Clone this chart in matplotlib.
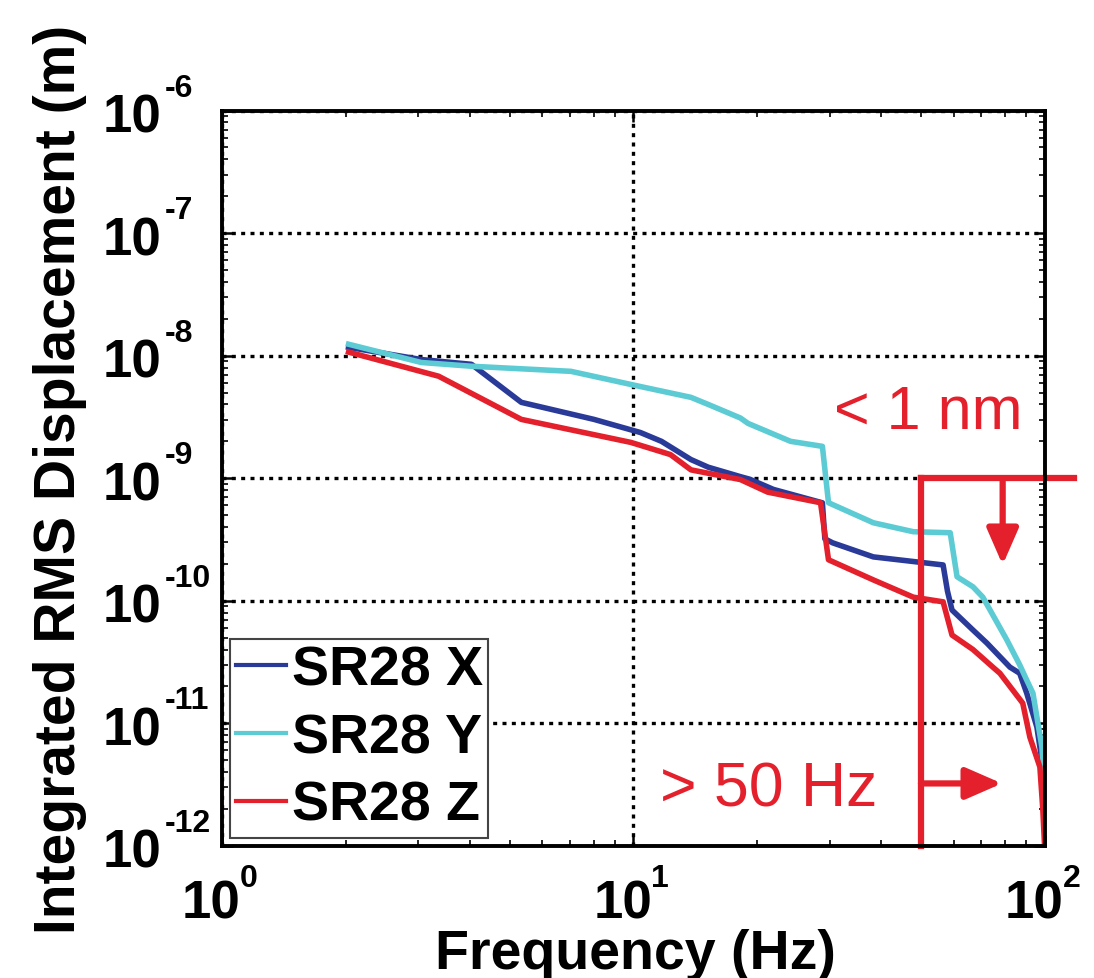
import matplotlib
matplotlib.use('Agg')
import matplotlib.pyplot as plt
from matplotlib.transforms import offset_copy
import numpy as np

plt.rcParams['font.family'] = ['Liberation Sans', 'DejaVu Sans']

# data (frequency in Hz, integrated rms displacement in m)
freq_x = [2.03, 3.05, 4.04, 5.34, 8.02, 10.4, 11.7, 13.8, 15.2, 18.2, 19.2,
          21.9, 28.8, 29.2, 30.5, 38.3, 56.6, 58.0, 59.5, 66.9, 72.3, 82.3,
          86.9, 90.4, 95.7, 98.4, 99.9]
disp_x = [1.17e-8, 9.3e-9, 8.5e-9, 4.16e-9, 3.02e-9, 2.36e-9, 2.0e-9, 1.42e-9,
          1.23e-9, 1.03e-9, 9.8e-10, 8.1e-10, 6.3e-10, 3.2e-10, 2.97e-10,
          2.28e-10, 1.96e-10, 1.2e-10, 8.4e-11, 5.77e-11, 4.52e-11, 2.87e-11,
          2.56e-11, 1.76e-11, 9.3e-12, 5.0e-12, 2.0e-12]

freq_y = [2.03, 3.05, 4.04, 7.05, 10.4, 13.8, 15.2, 18.2, 19.0, 24.1, 28.8,
          29.8, 38.3, 47.9, 58.9, 61.2, 66.9, 70.7, 80.9, 86.9, 90.4, 93.6,
          98.4, 99.9]
disp_y = [1.24e-8, 8.8e-9, 8.2e-9, 7.45e-9, 5.6e-9, 4.57e-9, 4.0e-9, 3.1e-9,
          2.8e-9, 2.0e-9, 1.82e-9, 6.31e-10, 4.33e-10, 3.66e-10, 3.59e-10,
          1.57e-10, 1.3e-10, 1.07e-10, 4.78e-11, 3.0e-11, 2.25e-11, 1.76e-11,
          6.4e-12, 3.0e-12]

freq_z = [2.03, 3.36, 5.34, 9.86, 12.3, 13.8, 18.2, 21.2, 28.5, 29.8, 38.3,
          47.9, 56.6, 59.5, 66.9, 74.8, 77.8, 88.4, 92.0, 97.3, 98.9, 99.9]
disp_z = [1.07e-8, 6.8e-9, 3.02e-9, 1.96e-9, 1.56e-9, 1.17e-9, 9.75e-10,
          7.7e-10, 6.31e-10, 2.16e-10, 1.48e-10, 1.07e-10, 9.8e-11, 5.25e-11,
          4.0e-11, 2.87e-11, 2.56e-11, 1.46e-11, 7.7e-12, 4.4e-12, 2.0e-12,
          1.0e-12]

labels = ['SR28 X', 'SR28 Y', 'SR28 Z']
colors = ['#2a3a98', '#5ccbd3', '#e3202b']

# matlab style tick labels: base "10" plus a small exponent
xticks = [1, 10, 100]
xtick_exps = ['0', '1', '2']
yticks = [1e-12, 1e-11, 1e-10, 1e-9, 1e-8, 1e-7, 1e-6]
ytick_exps = ['-12', '-11', '-10', '-9', '-8', '-7', '-6']

# annotation box: < 1 nm above 50 Hz
f_cut = 50
d_cut = 1e-9

fig = plt.figure(figsize=(10.94, 9.79), dpi=100)
ax = fig.add_axes([0.203, 0.135, 0.752, 0.751])

ax.plot(freq_x, disp_x, color=colors[0], lw=4, label=labels[0])
ax.plot(freq_y, disp_y, color=colors[1], lw=4, label=labels[1])
ax.plot(freq_z, disp_z, color=colors[2], lw=4, label=labels[2])

ax.set_xscale('log')
ax.set_yscale('log')
ax.set_xlim(1, 100)
ax.set_ylim(1e-12, 1e-6)
ax.set_xticks(xticks)
ax.set_yticks(yticks)

ax.grid(True, which='major', color='k', linestyle=(0, (1.2, 1.6)), lw=2.4)
ax.tick_params(which='both', direction='in', top=True, right=True,
               labelleft=False, labelbottom=False)
ax.tick_params(which='major', length=8, width=1.8)
ax.tick_params(which='minor', length=4, width=1.2)
for sp in ax.spines.values():
    sp.set_linewidth(2.8)

ytrans = ax.get_yaxis_transform()
for v, e in zip(yticks, ytick_exps):
    ax.text(0, v, '10', transform=offset_copy(ytrans, fig=fig, x=-119, y=-21,
                                              units='dots'),
            ha='left', va='baseline', fontsize=38, fontweight='bold',
            clip_on=False)
    ax.text(0, v, e, transform=offset_copy(ytrans, fig=fig, x=-57, y=15,
                                           units='dots'),
            ha='left', va='baseline', fontsize=23, fontweight='bold',
            clip_on=False)

xtrans = ax.get_xaxis_transform()
for v, e in zip(xticks, xtick_exps):
    ax.text(v, 0, '10', transform=offset_copy(xtrans, fig=fig, x=-40, y=-72,
                                              units='dots'),
            ha='left', va='baseline', fontsize=38, fontweight='bold',
            clip_on=False)
    ax.text(v, 0, e, transform=offset_copy(xtrans, fig=fig, x=18, y=-40,
                                           units='dots'),
            ha='left', va='baseline', fontsize=23, fontweight='bold',
            clip_on=False)

ax.set_xlabel('Frequency (Hz)', fontsize=40, fontweight='bold')
ax.xaxis.set_label_coords(0.502, -0.112)
ax.set_ylabel('Integrated RMS Displacement (m)', fontsize=41,
              fontweight='bold')
ax.yaxis.set_label_coords(-0.164, 0.5)

red = '#e3202b'
ax.plot([f_cut, f_cut], [1e-12, d_cut], color=red, lw=4.5, clip_on=False)
ax.plot([f_cut, 118], [d_cut, d_cut], color=red, lw=4.5, clip_on=False)
arrow_style = '-|>,head_length=0.55,head_width=0.24'
ax.annotate('', xy=(79, 1.96e-10), xytext=(79, d_cut),
            arrowprops=dict(arrowstyle=arrow_style, color=red, lw=4.5,
                            mutation_scale=40, shrinkA=0, shrinkB=0))
ax.annotate('', xy=(78.7, 3.23e-12), xytext=(f_cut, 3.23e-12),
            arrowprops=dict(arrowstyle=arrow_style, color=red, lw=4.5,
                            mutation_scale=40, shrinkA=0, shrinkB=0))
ax.text(52, 2.59e-9, '< 1 nm', color=red, fontsize=44, ha='center',
        va='baseline')
ax.text(21.3, 2.13e-12, '> 50 Hz', color=red, fontsize=45, ha='center',
        va='baseline')

leg = ax.legend(loc='lower left', prop={'weight': 'bold', 'size': 40},
                handlelength=0.9, handletextpad=0.1, labelspacing=0.28,
                borderpad=0.1, borderaxespad=0.15, fancybox=False,
                framealpha=1)
leg.get_frame().set_edgecolor('#444444')
leg.get_frame().set_linewidth(1.5)
for line in leg.get_lines():
    line.set_linewidth(3)

fig.savefig('out.png', dpi=100)
